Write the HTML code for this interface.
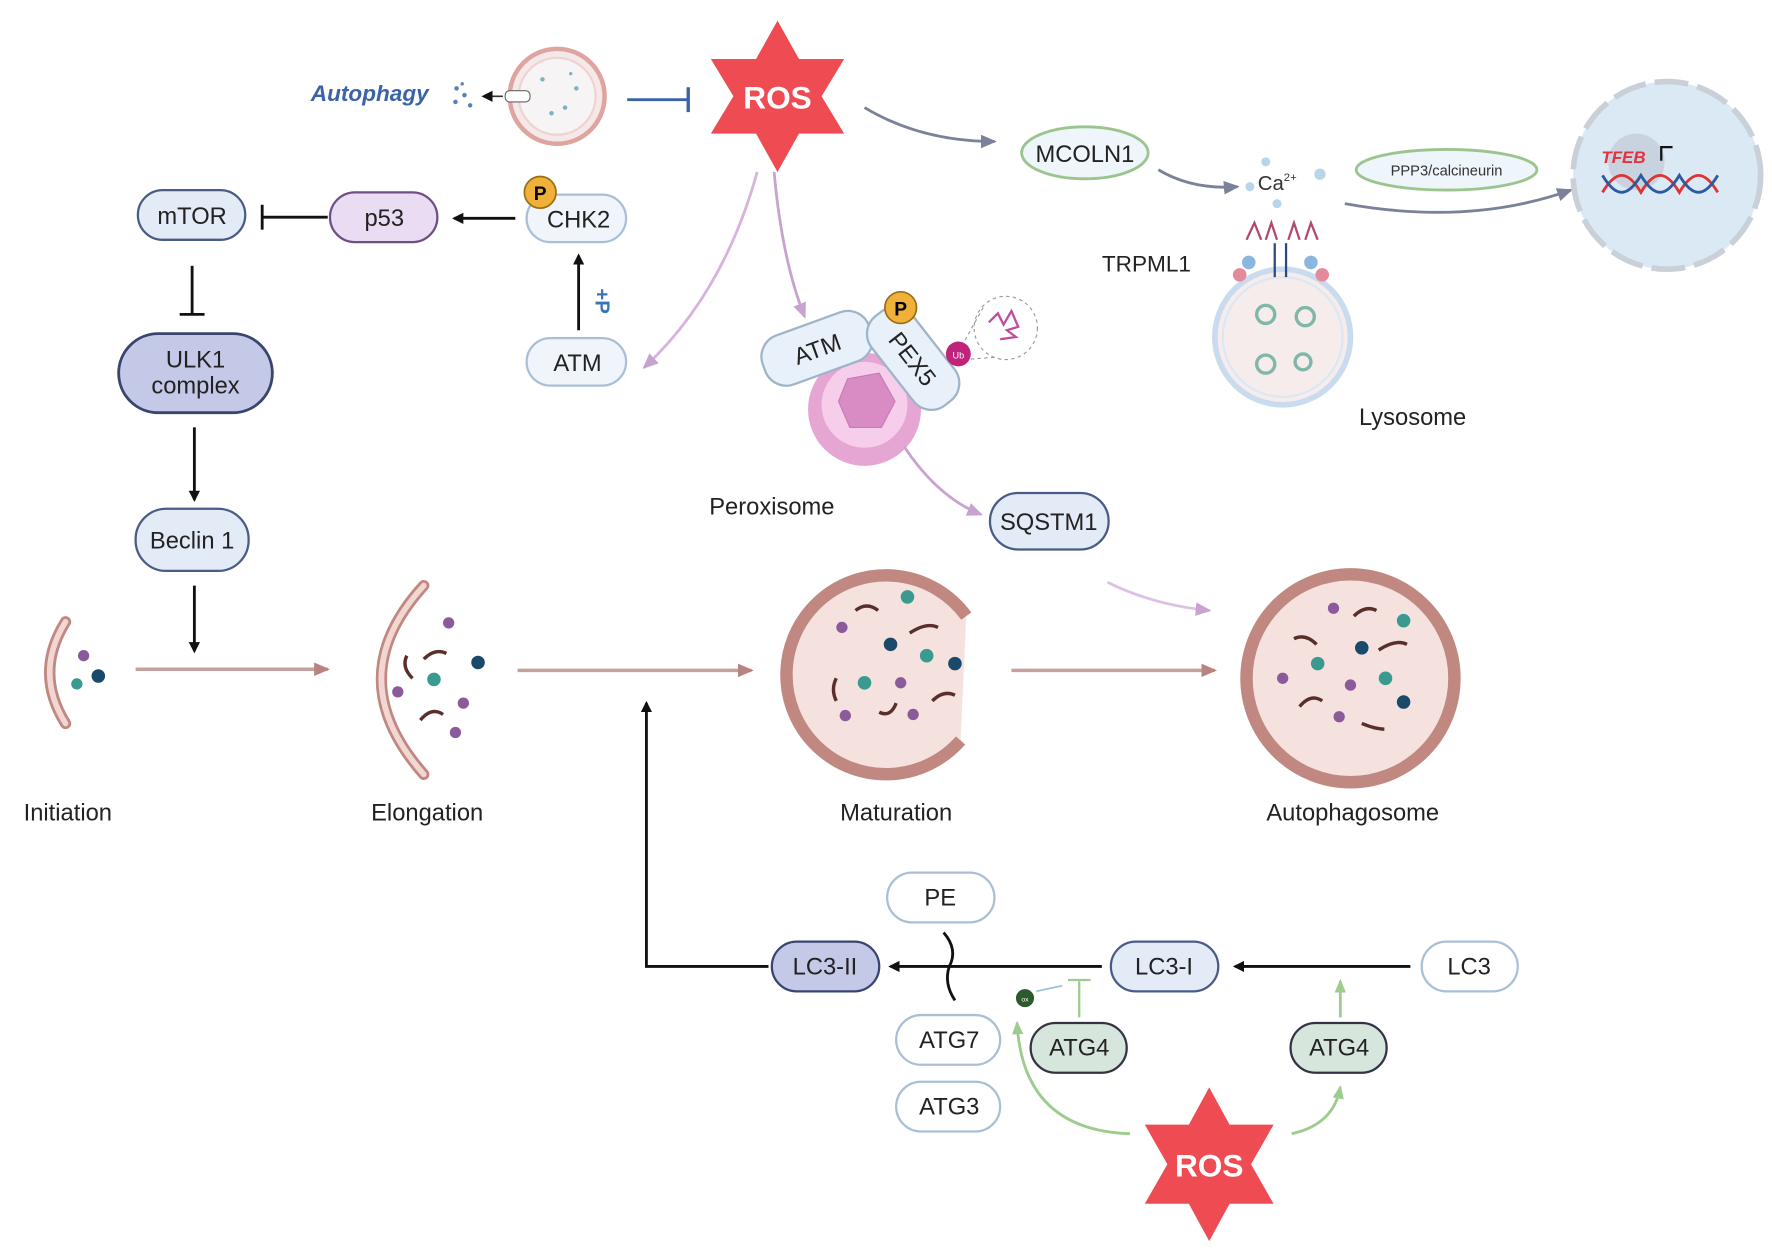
<!DOCTYPE html>
<html><head><meta charset="utf-8"><style>
html,body{margin:0;padding:0;background:#fff;}
svg{display:block;}
text{font-family:"Liberation Sans",sans-serif;}
</style></head><body>
<svg width="1772" height="1256" viewBox="0 0 1568 1111" xmlns="http://www.w3.org/2000/svg">
<defs>
<marker id="ak" markerWidth="10" markerHeight="10" refX="8" refY="5" orient="auto" markerUnits="userSpaceOnUse"><path d="M0,0 L10,5 L0,10 z" fill="#111"/></marker>
<marker id="ag" markerWidth="14" markerHeight="12" refX="12" refY="6" orient="auto" markerUnits="userSpaceOnUse"><path d="M0,0 L14,6 L0,12 z" fill="#7a8199"/></marker>
<marker id="ab" markerWidth="14" markerHeight="12" refX="12" refY="6" orient="auto" markerUnits="userSpaceOnUse"><path d="M0,0 L14,6 L0,12 z" fill="#b88482"/></marker>
<marker id="ap" markerWidth="14" markerHeight="12" refX="12" refY="6" orient="auto" markerUnits="userSpaceOnUse"><path d="M0,0 L14,6 L0,12 z" fill="#c9a3cf"/></marker>
<marker id="agr" markerWidth="12" markerHeight="10" refX="10" refY="5" orient="auto" markerUnits="userSpaceOnUse"><path d="M0,0 L12,5 L0,10 z" fill="#9ccc8e"/></marker>
</defs>

<!-- top-left autophagy cell -->
<text x="275" y="89" font-size="20" font-style="italic" font-weight="bold" fill="#3b63a8">Autophagy</text>
<g fill="#5a7fb8"><circle cx="404" cy="78" r="2"/><circle cx="411" cy="84" r="2"/><circle cx="403" cy="90" r="2"/><circle cx="416" cy="93" r="2"/><circle cx="409" cy="74" r="1.5"/></g>
<line x1="445" y1="85" x2="428" y2="85" stroke="#333" stroke-width="1.5" marker-end="url(#ak)"/>
<circle cx="493" cy="85" r="42" fill="#f4e9e8" stroke="#e0a4a0" stroke-width="4"/>
<circle cx="493" cy="85" r="34" fill="#f7f4f6" stroke="#eed3d1" stroke-width="2"/>
<g fill="#7ab3c6"><circle cx="480" cy="70" r="2"/><circle cx="500" cy="95" r="2"/><circle cx="510" cy="78" r="2"/><circle cx="488" cy="100" r="2"/><circle cx="505" cy="65" r="1.5"/></g>
<rect x="447" y="80" width="22" height="10" rx="4" fill="#fff" stroke="#666"/>
<line x1="555" y1="88" x2="608" y2="88" stroke="#3b63a8" stroke-width="2.5"/>
<line x1="609" y1="77" x2="609" y2="99" stroke="#3b63a8" stroke-width="3"/>

<!-- ROS top -->
<polygon points="688,18 707,52 747,52 727,85 747,118 707,118 688,152 669,118 629,118 649,85 629,52 669,52" fill="#ee4b52"/>
<text x="688" y="96" font-size="28" font-weight="bold" fill="#fff" text-anchor="middle">ROS</text>

<path d="M765,95 Q815,125 880,125" fill="none" stroke="#7a8199" stroke-width="2.5" marker-end="url(#ag)"/>
<ellipse cx="960" cy="135" rx="56" ry="23" fill="#eef5fb" stroke="#9cc48f" stroke-width="2.5"/>
<text x="960" y="143" font-size="21" text-anchor="middle" fill="#222">MCOLN1</text>
<path d="M1025,150 Q1055,168 1095,165" fill="none" stroke="#7a8199" stroke-width="2.5" marker-end="url(#ag)"/>
<g fill="#b9d5e9"><circle cx="1120" cy="143" r="4"/><circle cx="1106" cy="165" r="4"/><circle cx="1168" cy="154" r="5"/><circle cx="1130" cy="180" r="4"/></g>
<text x="1113" y="168" font-size="18" fill="#333">Ca<tspan font-size="10" dy="-8">2+</tspan></text>
<ellipse cx="1280" cy="150" rx="80" ry="18" fill="#eef5fb" stroke="#9cc48f" stroke-width="2.5"/>
<text x="1280" y="155" font-size="13" text-anchor="middle" fill="#333">PPP3/calcineurin</text>
<path d="M1190,180 Q1300,200 1390,168" fill="none" stroke="#7a8199" stroke-width="2.5" marker-end="url(#ag)"/>
<circle cx="1475" cy="155" r="83" fill="#dbe9f5" stroke="#c9d0d8" stroke-width="5" stroke-dasharray="30 8"/>
<circle cx="1448" cy="143" r="25" fill="#c9d3df"/>
<text x="1417" y="144" font-size="15" font-weight="bold" font-style="italic" fill="#e3313d">TFEB</text>
<path d="M1470,142 V130 H1480" fill="none" stroke="#111" stroke-width="2"/>
<path d="M1418,170 C1430,150 1440,150 1452,170 C1464,150 1474,150 1486,170 C1498,150 1508,150 1520,170" fill="none" stroke="#d33" stroke-width="2.5"/>
<path d="M1418,155 C1430,175 1440,175 1452,155 C1464,175 1474,175 1486,155 C1498,175 1508,175 1520,155" fill="none" stroke="#2b5aa3" stroke-width="2.5"/>

<text x="975" y="240" font-size="20" fill="#222">TRPML1</text>
<circle cx="1135" cy="298" r="60" fill="#f7ecec" stroke="#c9dcef" stroke-width="5"/>
<circle cx="1135" cy="298" r="53" fill="none" stroke="#dbe8f4" stroke-width="2"/>
<g fill="none" stroke="#7fb8a8" stroke-width="3"><circle cx="1120" cy="278" r="8"/><circle cx="1155" cy="280" r="8"/><circle cx="1120" cy="322" r="8"/><circle cx="1153" cy="320" r="7"/></g>
<g stroke="#b04a6a" stroke-width="2" fill="none"><path d="M1103,212 L1110,197 L1116,212 M1120,212 L1125,197 L1130,212 M1140,212 L1145,197 L1150,212 M1155,212 L1160,197 L1166,212"/></g>
<g fill="#8bb6e0"><circle cx="1105" cy="232" r="6"/><circle cx="1160" cy="232" r="6"/></g>
<g fill="#e58a9a"><circle cx="1097" cy="243" r="6"/><circle cx="1170" cy="243" r="6"/></g>
<line x1="1128" y1="215" x2="1128" y2="245" stroke="#2b4a7a" stroke-width="2"/><line x1="1138" y1="215" x2="1138" y2="245" stroke="#2b4a7a" stroke-width="2"/>
<text x="1250" y="376" font-size="21" text-anchor="middle" fill="#222">Lysosome</text>

<!-- left pathway -->
<g font-size="21" text-anchor="middle" fill="#222">
<rect x="122" y="168" width="95" height="44" rx="22" fill="#e3ebf7" stroke="#4a5b86" stroke-width="2"/><text x="170" y="198">mTOR</text>
<rect x="292" y="170" width="95" height="44" rx="22" fill="#eadcf2" stroke="#6e4f86" stroke-width="2"/><text x="340" y="200">p53</text>
<rect x="466" y="172" width="88" height="42" rx="21" fill="#f0f5fb" stroke="#a9bfd6" stroke-width="2"/><text x="512" y="201">CHK2</text>
<rect x="466" y="299" width="88" height="42" rx="21" fill="#f0f5fb" stroke="#a9bfd6" stroke-width="2"/><text x="511" y="328">ATM</text>
<rect x="105" y="295" width="136" height="70" rx="35" fill="#c3c9e6" stroke="#39456e" stroke-width="2.5"/><text x="173" y="325">ULK1</text><text x="173" y="348">complex</text>
<rect x="120" y="450" width="100" height="55" rx="27" fill="#e3ebf7" stroke="#4a5b86" stroke-width="2"/><text x="170" y="485">Beclin 1</text>
</g>
<circle cx="478" cy="170" r="14" fill="#f0b13a" stroke="#9b6d14" stroke-width="1.5"/><text x="478" y="177" font-size="17" font-weight="bold" text-anchor="middle">P</text>
<line x1="512" y1="292" x2="512" y2="226" stroke="#111" stroke-width="2.5" marker-end="url(#ak)"/>
<text x="0" y="0" font-size="18" font-weight="bold" fill="#3b73b8" transform="translate(527,255) rotate(90)">+P</text>
<line x1="456" y1="193" x2="402" y2="193" stroke="#111" stroke-width="2.5" marker-end="url(#ak)"/>
<line x1="290" y1="192" x2="232" y2="192" stroke="#111" stroke-width="2.5"/><line x1="232" y1="181" x2="232" y2="203" stroke="#111" stroke-width="2.5"/>
<line x1="170" y1="235" x2="170" y2="278" stroke="#111" stroke-width="2.5"/><line x1="159" y1="278" x2="181" y2="278" stroke="#111" stroke-width="2.5"/>
<line x1="172" y1="378" x2="172" y2="442" stroke="#111" stroke-width="2.5" marker-end="url(#ak)"/>
<line x1="172" y1="518" x2="172" y2="576" stroke="#111" stroke-width="2.5" marker-end="url(#ak)"/>

<!-- ROS pink arrows -->
<path d="M670,152 Q640,260 570,325" fill="none" stroke="#d8b3dc" stroke-width="2.5" marker-end="url(#ap)"/>
<path d="M685,152 Q692,230 712,280" fill="none" stroke="#c9a3cf" stroke-width="2.5" marker-end="url(#ap)"/>

<!-- Peroxisome -->
<circle cx="765" cy="362" r="50" fill="#e6a6d4"/>
<circle cx="765" cy="358" r="38" fill="#f6cdea"/>
<polygon points="750,335 778,330 792,355 780,378 752,378 742,355" fill="#d98bc4" stroke="#c77bb2"/>
<g transform="translate(723,308) rotate(-20)"><rect x="-50" y="-23" width="100" height="46" rx="20" fill="#e8f1fa" stroke="#9fb4c8" stroke-width="2"/><text x="0" y="8" font-size="21" text-anchor="middle" fill="#222">ATM</text></g>
<g transform="translate(808,317) rotate(52)"><rect x="-50" y="-23" width="100" height="46" rx="20" fill="#e8f1fa" stroke="#9fb4c8" stroke-width="2"/><text x="0" y="8" font-size="21" text-anchor="middle" fill="#222">PEX5</text></g>
<circle cx="797" cy="272" r="14" fill="#f0b13a" stroke="#9b6d14" stroke-width="1.5"/><text x="797" y="279" font-size="17" font-weight="bold" text-anchor="middle">P</text>
<circle cx="890" cy="290" r="28" fill="#fff" stroke="#999" stroke-dasharray="3 3"/>
<path d="M875,285 l8,-8 l5,10 l7,-12 l6,14 l-10,3 l8,6 l-14,2" fill="none" stroke="#c04aa0" stroke-width="2"/>
<line x1="851" y1="306" x2="870" y2="272" stroke="#999" stroke-dasharray="3 3"/><line x1="853" y1="318" x2="880" y2="316" stroke="#999" stroke-dasharray="3 3"/>
<circle cx="848" cy="313" r="11" fill="#c0237c"/><text x="848" y="317" font-size="8" fill="#fff" text-anchor="middle">Ub</text>
<text x="683" y="455" font-size="21" text-anchor="middle" fill="#222">Peroxisome</text>
<path d="M800,395 Q830,440 868,455" fill="none" stroke="#c9a3cf" stroke-width="2.5" marker-end="url(#ap)"/>
<rect x="876" y="436" width="105" height="50" rx="25" fill="#e3ebf7" stroke="#4a5b86" stroke-width="2"/>
<text x="928" y="469" font-size="21" text-anchor="middle" fill="#222">SQSTM1</text>
<path d="M980,515 Q1020,535 1070,540" fill="none" stroke="#dcc2e2" stroke-width="2.5" marker-end="url(#ap)"/>

<!-- stages -->
<path d="M58,550 Q30,595 58,640" fill="none" stroke="#c08880" stroke-width="10" stroke-linecap="round"/>
<path d="M58,550 Q30,595 58,640" fill="none" stroke="#f2d6d2" stroke-width="5" stroke-linecap="round"/>
<circle cx="74" cy="580" r="5" fill="#8b5a9a"/><circle cx="68" cy="605" r="5" fill="#3a9a8f"/><circle cx="87" cy="598" r="6" fill="#1a4a6a"/>
<line x1="120" y1="592" x2="290" y2="592" stroke="#c6a09c" stroke-width="3" marker-end="url(#ab)"/>
<path d="M375,518 Q300,600 375,685" fill="none" stroke="#c08880" stroke-width="10" stroke-linecap="round"/>
<path d="M375,518 Q300,600 375,685" fill="none" stroke="#f2d6d2" stroke-width="5" stroke-linecap="round"/>
<g fill="#8b5a9a"><circle cx="397" cy="551" r="5"/><circle cx="352" cy="612" r="5"/><circle cx="410" cy="622" r="5"/><circle cx="403" cy="648" r="5"/></g>
<circle cx="384" cy="601" r="6" fill="#3a9a8f"/><circle cx="423" cy="586" r="6" fill="#1a4a6a"/>
<g stroke="#5a2e2a" stroke-width="3" fill="none"><path d="M375,583 q10,-10 20,-5"/><path d="M360,580 q-5,10 5,20"/><path d="M372,637 q10,-12 20,-5"/></g>
<text x="60" y="726" font-size="21" text-anchor="middle" fill="#222">Initiation</text>
<text x="378" y="726" font-size="21" text-anchor="middle" fill="#222">Elongation</text>
<line x1="458" y1="593" x2="665" y2="593" stroke="#c6a09c" stroke-width="3" marker-end="url(#ab)"/>
<path d="M850,655 A88,88 0 1 1 855,545" fill="#f5e2df" stroke="#c08880" stroke-width="11"/>
<g fill="#8b5a9a"><circle cx="745" cy="555" r="5"/><circle cx="797" cy="604" r="5"/><circle cx="748" cy="633" r="5"/><circle cx="808" cy="632" r="5"/></g>
<g fill="#3a9a8f"><circle cx="803" cy="528" r="6"/><circle cx="820" cy="580" r="6"/><circle cx="765" cy="604" r="6"/></g>
<g fill="#1a4a6a"><circle cx="788" cy="570" r="6"/><circle cx="845" cy="587" r="6"/></g>
<g stroke="#5a2e2a" stroke-width="3" fill="none"><path d="M757,540 q10,-8 20,0"/><path d="M805,560 q15,-10 25,-5"/><path d="M740,600 q-5,10 0,20"/><path d="M778,630 q10,5 15,-8"/><path d="M825,620 q10,-10 20,-5"/></g>
<text x="793" y="726" font-size="21" text-anchor="middle" fill="#222">Maturation</text>
<line x1="895" y1="593" x2="1075" y2="593" stroke="#c6a09c" stroke-width="3" marker-end="url(#ab)"/>
<circle cx="1195" cy="600" r="92" fill="#f5e2df" stroke="#c08880" stroke-width="11"/>
<g fill="#8b5a9a"><circle cx="1180" cy="538" r="5"/><circle cx="1135" cy="600" r="5"/><circle cx="1195" cy="606" r="5"/><circle cx="1185" cy="634" r="5"/></g>
<g fill="#3a9a8f"><circle cx="1242" cy="549" r="6"/><circle cx="1166" cy="587" r="6"/><circle cx="1226" cy="600" r="6"/></g>
<g fill="#1a4a6a"><circle cx="1205" cy="573" r="6"/><circle cx="1242" cy="621" r="6"/></g>
<g stroke="#5a2e2a" stroke-width="3" fill="none"><path d="M1198,545 q10,-10 20,-5"/><path d="M1145,565 q10,-5 20,5"/><path d="M1150,625 q10,-12 20,-5"/><path d="M1220,575 q15,-10 25,-5"/><path d="M1205,640 q12,5 20,5"/></g>
<text x="1197" y="726" font-size="21" text-anchor="middle" fill="#222">Autophagosome</text>

<!-- bottom LC3 -->
<g font-size="21" text-anchor="middle" fill="#222">
<rect x="683" y="833" width="95" height="44" rx="22" fill="#c3c9e6" stroke="#39456e" stroke-width="2"/><text x="730" y="862">LC3-II</text>
<rect x="785" y="772" width="95" height="44" rx="22" fill="#fff" stroke="#a9bfd6" stroke-width="2"/><text x="832" y="801">PE</text>
<rect x="983" y="833" width="95" height="44" rx="22" fill="#e3ebf7" stroke="#4a5b86" stroke-width="2"/><text x="1030" y="862">LC3-I</text>
<rect x="1258" y="833" width="85" height="44" rx="22" fill="#fff" stroke="#a9bfd6" stroke-width="2"/><text x="1300" y="862">LC3</text>
<rect x="793" y="898" width="92" height="44" rx="22" fill="#fff" stroke="#a9bfd6" stroke-width="2"/><text x="840" y="927">ATG7</text>
<rect x="793" y="957" width="92" height="44" rx="22" fill="#fff" stroke="#a9bfd6" stroke-width="2"/><text x="840" y="986">ATG3</text>
<rect x="912" y="905" width="85" height="44" rx="22" fill="#d7e6dc" stroke="#334" stroke-width="2"/><text x="955" y="934">ATG4</text>
<rect x="1142" y="905" width="85" height="44" rx="22" fill="#d7e6dc" stroke="#334" stroke-width="2"/><text x="1185" y="934">ATG4</text>
</g>
<line x1="1248" y1="855" x2="1093" y2="855" stroke="#111" stroke-width="2.5" marker-end="url(#ak)"/>
<line x1="975" y1="855" x2="788" y2="855" stroke="#111" stroke-width="2.5" marker-end="url(#ak)"/>
<path d="M835,825 Q848,840 840,855 Q835,870 845,885" fill="none" stroke="#111" stroke-width="2.5"/>
<path d="M680,855 H572 V622" fill="none" stroke="#111" stroke-width="2.5" marker-end="url(#ak)"/>
<line x1="955" y1="900" x2="955" y2="868" stroke="#9ccc8e" stroke-width="2"/><line x1="945" y1="867" x2="965" y2="867" stroke="#9ccc8e" stroke-width="2"/>
<circle cx="907" cy="883" r="8" fill="#2c5a2c"/><text x="907" y="886" font-size="6" fill="#fff" text-anchor="middle">ox</text>
<line x1="917" y1="877" x2="940" y2="872" stroke="#9bbbd6" stroke-width="1.5"/>
<line x1="1186" y1="900" x2="1186" y2="868" stroke="#9ccc8e" stroke-width="2.5" marker-end="url(#agr)"/>
<polygon points="1070,962 1088,995 1127,995 1107,1030 1127,1065 1088,1065 1070,1098 1052,1065 1013,1065 1033,1030 1013,995 1052,995" fill="#ee4b52"/>
<text x="1070" y="1041" font-size="28" font-weight="bold" fill="#fff" text-anchor="middle">ROS</text>
<path d="M1000,1003 Q905,1000 900,905" fill="none" stroke="#9ccc8e" stroke-width="2.5" marker-end="url(#agr)"/>
<path d="M1143,1003 Q1180,995 1186,962" fill="none" stroke="#9ccc8e" stroke-width="2.5" marker-end="url(#agr)"/>
</svg>
</body></html>
